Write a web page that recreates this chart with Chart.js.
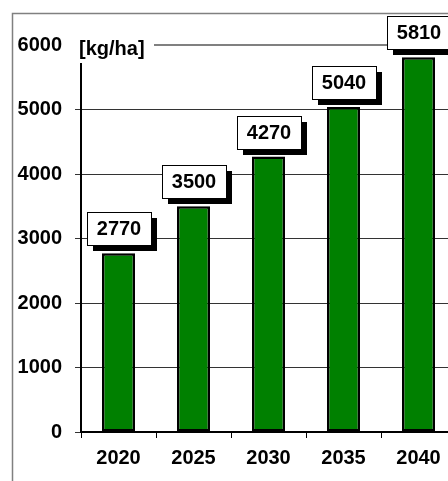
<!DOCTYPE html>
<html>
<head>
<meta charset="utf-8">
<script src="https://cdn.jsdelivr.net/npm/chart.js@4/dist/chart.umd.min.js"></script>
<style>
  html, body { margin: 0; padding: 0; background: #fff; overflow: hidden; }
  #chart { position: absolute; left: 0; top: 0; }
</style>
</head>
<body>
<canvas id="chart" width="470" height="481"></canvas>
<script>
// data
const years = ['2020', '2025', '2030', '2035', '2040'];
const yieldValues = [2770, 3500, 4270, 5040, 5810];
const unitLabel = '[kg/ha]';

const fontFamily = '"Liberation Sans", Arial, sans-serif';

// outer frame, unit label and the boxed value labels
const decorations = {
    id: 'decorations',
    beforeDraw(chart) {
        const ctx = chart.ctx;
        ctx.save();
        ctx.strokeStyle = '#808080';
        ctx.lineWidth = 1.5;
        ctx.strokeRect(12.5, 13.5, 1000, 1000);
        ctx.restore();
    },
    afterDraw(chart) {
        const ctx = chart.ctx;
        const meta = chart.getDatasetMeta(0);
        ctx.save();
        // unit label sits on top of the 6000 line
        ctx.fillStyle = '#fff';
        ctx.fillRect(74, 30, 80, 33);
        ctx.fillStyle = '#000';
        ctx.font = 'bold 20px ' + fontFamily;
        ctx.textAlign = 'left';
        ctx.textBaseline = 'alphabetic';
        ctx.fillText(unitLabel, 79, 55);

        // value boxes with drop shadow
        const w = 64, h = 33, sh = 6;
        meta.data.forEach((bar, i) => {
            const left = Math.round(bar.x - w / 2);
            const bottom = Math.round(bar.y - 8);
            const top = bottom - h;
            ctx.fillStyle = '#000';
            ctx.fillRect(left + sh, top + sh, w, h);
            ctx.fillStyle = '#fff';
            ctx.fillRect(left, top, w, h);
            ctx.strokeStyle = '#000';
            ctx.lineWidth = 1;
            ctx.strokeRect(left + 0.5, top + 0.5, w, h);
            ctx.fillStyle = '#000';
            ctx.textAlign = 'center';
            ctx.textBaseline = 'middle';
            ctx.fillText(String(yieldValues[i]), left + w / 2, top + h / 2 + 1);
        });
        ctx.restore();
    }
};

const ctx = document.getElementById('chart').getContext('2d');
new Chart(ctx, {
    type: 'bar',
    data: {
        labels: years,
        datasets: [{
            data: yieldValues,
            backgroundColor: '#008000',
            borderColor: '#000',
            borderWidth: 2.5,
            borderSkipped: false,
            categoryPercentage: 1,
            barPercentage: 0.44
        }]
    },
    options: {
        responsive: false,
        animation: false,
        devicePixelRatio: 1,
        layout: { padding: { top: 45, right: 14, left: 0, bottom: 0 } },
        plugins: {
            legend: { display: false },
            tooltip: { enabled: false }
        },
        scales: {
            x: {
                grid: {
                    offset: true,
                    drawOnChartArea: false,
                    tickLength: 6,
                    color: '#000',
                    lineWidth: 1
                },
                border: { color: '#000', width: 2 },
                ticks: {
                    color: '#000',
                    padding: 8,
                    font: { family: fontFamily, size: 20, weight: 'bold' }
                },
                afterFit(scale) { scale.height = 49; }
            },
            y: {
                min: 0,
                max: 6000,
                ticks: {
                    stepSize: 1000,
                    color: '#000',
                    padding: 13,
                    font: { family: fontFamily, size: 20, weight: 'bold' },
                    callback: (v) => String(v)
                },
                grid: {
                    tickLength: 6,
                    color: (c) => c.tick && c.tick.value === 6000 ? '#808080' : '#333',
                    lineWidth: (c) => c.tick && c.tick.value === 6000 ? 2 : 1
                },
                border: { color: '#000', width: 2 },
                afterFit(scale) { scale.width = 81; }
            }
        }
    },
    plugins: [decorations]
});
</script>
</body>
</html>
